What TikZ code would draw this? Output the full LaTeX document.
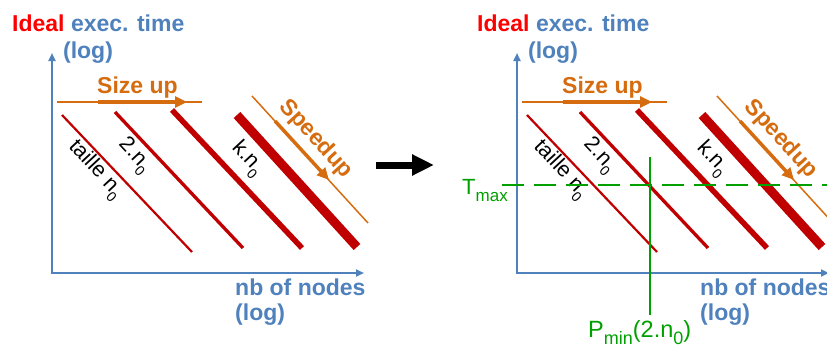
\documentclass[tikz,border=0pt]{standalone}
\usepackage{fontspec}
\setmainfont{Liberation Sans}
\usetikzlibrary{arrows.meta}

\definecolor{axisblue}{RGB}{79,129,189}
\definecolor{idealred}{RGB}{255,0,0}
\definecolor{curvered}{RGB}{192,0,0}
\definecolor{trendorange}{RGB}{214,108,16}
\definecolor{limitgreen}{RGB}{0,160,0}

\newcommand{\setfs}[1]{\fontsize{#1}{#1}\selectfont}
\newcommand{\lowsub}[2]{\raisebox{-0.32em}{\setfs{#1}#2}}

\tikzset{
  axisline/.style={draw=axisblue, line width=2.5pt, line join=miter,
    {Triangle[length=8pt,width=7pt]}-{Triangle[length=8pt,width=7pt]}},
  axislabel/.style={text=axisblue, font=\bfseries\setfs{23}, inner sep=0pt},
  curve/.style={draw=curvered, line cap=butt},
  curvelabel/.style={font=\setfs{21.5}, rotate=-47, inner sep=0pt},
  trendthin/.style={draw=trendorange, line width=1.5pt},
  trendhead/.style={draw=trendorange, line width=3.5pt,
    -{Triangle[length=12pt,width=11pt]}},
  trendlabel/.style={text=trendorange, font=\bfseries\setfs{23}, inner sep=0pt},
  limitline/.style={draw=limitgreen, line width=2.5pt},
  limitlabel/.style={text=limitgreen, font=\setfs{22}, inner sep=0pt},
  bigarrow/.style={draw=black, line width=7pt,
    -{Triangle[length=22pt,width=20pt]}},
}

\begin{document}
\begin{tikzpicture}[x=1pt, y=-1pt]
\useasboundingbox (0,0) rectangle (827,348);
\clip (0,0) rectangle (827,348);

% the two panels share the same chart, the second one shifted right
\foreach \p/\dx in {L/0, R/465} {
\begin{scope}[xshift=\dx pt]
  % axes
  \coordinate (ytop\p) at (52,53);
  \coordinate (org\p)  at (52,273);
  \coordinate (xend\p) at (364,273);
  \draw[axisline] (ytop\p) -- (org\p) -- (xend\p);

  \node[axislabel, anchor=base west] (ttl\p) at (12,31)
    {{\color{idealred}Ideal} exec. time};
  \node[axislabel, anchor=base] (tlog\p) at (88,58) {(log)};
  \node[axislabel, anchor=base west] (xttl\p) at (235,295) {nb of nodes};
  \node[axislabel, anchor=base west] (xlog\p) at (235,320) {(log)};

  % iso-size curves
  \coordinate (c1a\p) at (62,115);  \coordinate (c1b\p) at (192,252);
  \coordinate (c2a\p) at (115,112); \coordinate (c2b\p) at (243,248);
  \coordinate (c3a\p) at (172,110); \coordinate (c3b\p) at (302,248);
  \coordinate (c4a\p) at (237,115); \coordinate (c4b\p) at (357,247);
  \draw[curve, line width=2.2pt] (c1a\p) -- (c1b\p);
  \draw[curve, line width=3.3pt] (c2a\p) -- (c2b\p);
  \draw[curve, line width=5.5pt] (c3a\p) -- (c3b\p);
  \draw[curve, line width=9pt]   (c4a\p) -- (c4b\p);

  \node[curvelabel] (lab1\p) at (95,170) {taille n\lowsub{14}{0}};
  \node[curvelabel] (lab2\p) at (134,156) {2.n\lowsub{14}{0}};
  \node[curvelabel] (lab4\p) at (247,159) {k.n\lowsub{14}{0}};

  % size up
  \coordinate (su0\p) at (57,102);  \coordinate (su3\p) at (202,102);
  \coordinate (su1\p) at (98,102);  \coordinate (su2\p) at (187,102);
  \draw[trendthin] (su0\p) -- (su3\p);
  \draw[trendhead] (su1\p) -- (su2\p);
  \node[trendlabel, anchor=base west] (sulab\p) at (97,93) {Size up};

  % speedup
  \coordinate (sp0\p) at (252,96);  \coordinate (sp3\p) at (368,223);
  \coordinate (sp1\p) at (275,121); \coordinate (sp2\p) at (329,180);
  \draw[trendthin] (sp0\p) -- (sp3\p);
  \draw[trendhead] (sp1\p) -- (sp2\p);
  \node[trendlabel, rotate=-47.6] (splab\p) at (316,139) {Speedup};
\end{scope}
}

% arrow between the two panels
\coordinate (arrA) at (376,165);
\coordinate (arrB) at (434,165);
\draw[bigarrow] (arrA) -- (arrB);

% time limit and minimal node count
\coordinate (tmaxA) at (502,185);
\coordinate (tmaxB) at (830,185);
\draw[limitline, dash pattern=on 22pt off 10pt] (tmaxA) -- (tmaxB);
\node[limitlabel, anchor=base west] (tmax) at (462,194) {T\lowsub{17}{max}};

\coordinate (pminA) at (650,157);
\coordinate (pminB) at (650,315);
\draw[limitline] (pminA) -- (pminB);
\node[limitlabel, anchor=base west, font=\setfs{23.5}] (pmin) at (588,337)
  {P\lowsub{18}{min}(2.n\lowsub{18}{0})};
\end{tikzpicture}
\end{document}
